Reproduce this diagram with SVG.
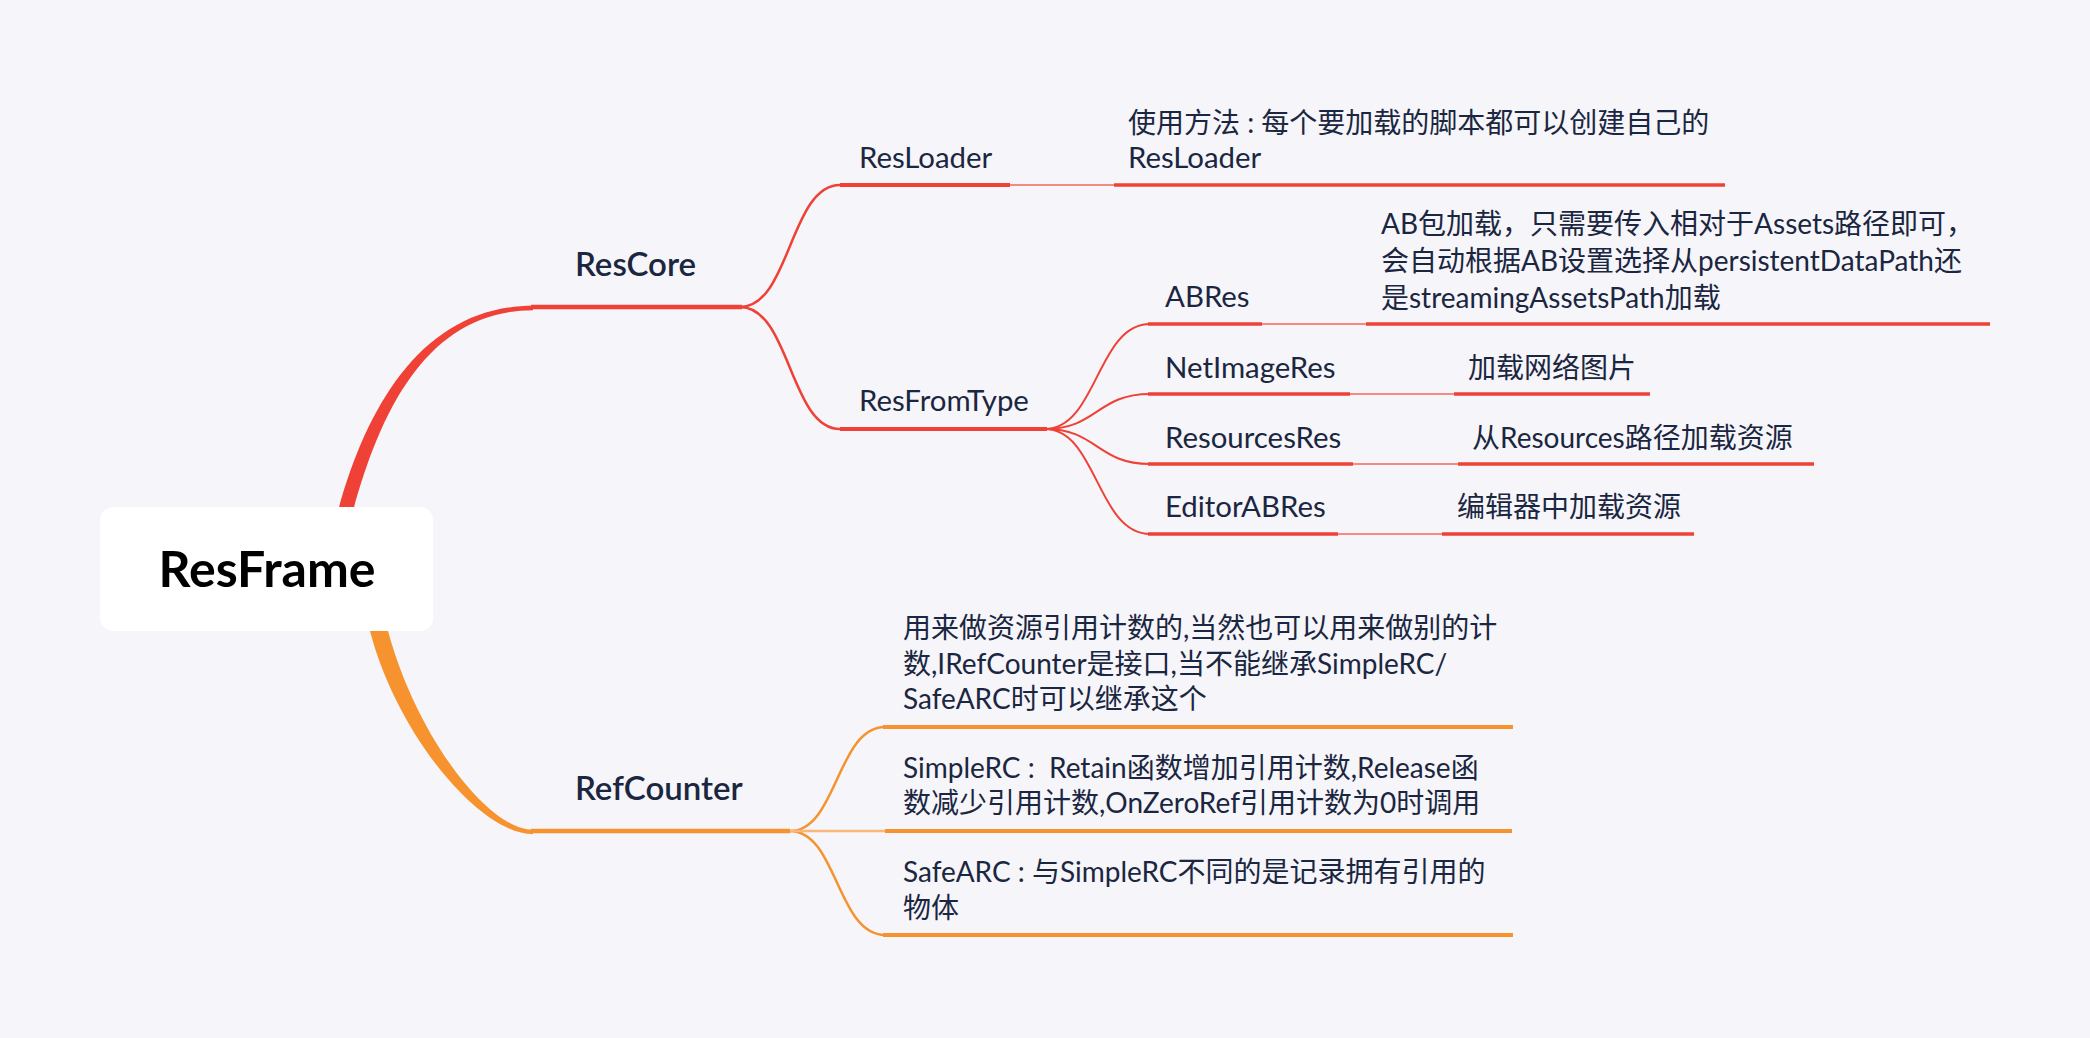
<svg xmlns="http://www.w3.org/2000/svg" width="2090" height="1038" viewBox="0 0 2090 1038">
<defs>
<style>
.t{font-family:Lato,"Noto Sans CJK SC",sans-serif;fill:#1B2640;font-size:28px}
.lat{font-size:29.4px}
.main{font-size:33px;font-weight:600}
.root{font-family:Lato,"Noto Sans CJK SC",sans-serif;font-size:50px;font-weight:700;fill:#000}
.r{stroke:#EF4136;fill:none}
.rl{stroke:#F58A84;fill:none;stroke-width:2}
.o{stroke:#F7932F;fill:none}
.ol{stroke:#FAB77A;fill:none;stroke-width:2.5}
.u{stroke-width:3.5}
.c{stroke-width:2.5}
</style>
</defs>
<rect x="0" y="0" width="2090" height="1038" fill="#F5F5FA"/>
<g id="connectors">
<path d="M337,515 C368,398 428,305.8 533,305.8 L533,310.2 C432,310.2 382,402 352,515 Z" fill="#EF4136"/>
<path d="M368,623 C394,733 480,834.2 533,834.2 L533,829.8 C486,829.8 412,729 386,623 Z" fill="#F7932F"/>
<path class="r c" d="M740,307 C790,307 790,185 840,185"/>
<path class="r c" d="M740,307 C790,307 790,429 840,429"/>
<path class="r" stroke-width="2" d="M1045,429 C1097,429 1097,324 1150,324"/>
<path class="r" stroke-width="2" d="M1045,429 C1097,429 1097,394 1150,394"/>
<path class="r" stroke-width="2" d="M1045,429 C1097,429 1097,464 1150,464"/>
<path class="r" stroke-width="2" d="M1045,429 C1097,429 1097,534 1150,534"/>
<path class="o c" d="M790,831 C837,831 837,727 885,727"/>
<path class="o c" d="M790,831 C837,831 837,935 885,935"/>
<line class="rl" x1="1010" y1="185" x2="1114" y2="185"/>
<line class="rl" x1="1262" y1="324" x2="1366" y2="324"/>
<line class="rl" x1="1350" y1="394" x2="1454" y2="394"/>
<line class="rl" x1="1353" y1="464" x2="1458" y2="464"/>
<line class="rl" x1="1338" y1="534" x2="1442" y2="534"/>
<line class="ol" x1="790" y1="831" x2="885" y2="831"/>
</g>
<g id="root">
<rect x="100" y="507" width="333" height="124" rx="13" fill="#FFFFFF"/>
<text class="root" x="267" y="587" text-anchor="middle">ResFrame</text>
</g>
<g id="rescore">
<line class="r" stroke-width="4.5" x1="531" y1="307" x2="742" y2="307"/>
<text class="t main" x="575" y="276">ResCore</text>
</g>
<g id="resloader">
<line class="r" stroke-width="4" x1="840" y1="185" x2="1010" y2="185"/>
<text class="t lat" x="859" y="168">ResLoader</text>
</g>
<g id="resloader-note">
<line class="r u" x1="1114" y1="185" x2="1725" y2="185"/>
<text class="t" x="1128" y="133">使用方法 : 每个要加载的脚本都可以创建自己的</text>
<text class="t lat" x="1128" y="168">ResLoader</text>
</g>
<g id="resfromtype">
<line class="r" stroke-width="4" x1="840" y1="429" x2="1047" y2="429"/>
<text class="t lat" x="859" y="411">ResFromType</text>
</g>
<g id="abres">
<line class="r u" x1="1148" y1="324" x2="1262" y2="324"/>
<text class="t lat" x="1165" y="307">ABRes</text>
</g>
<g id="abres-note">
<line class="r u" x1="1366" y1="324" x2="1990" y2="324"/>
<text class="t" x="1381" y="234">AB包加载，只需要传入相对于Assets路径即可，</text>
<text class="t" x="1381" y="271">会自动根据AB设置选择从persistentDataPath还</text>
<text class="t" x="1381" y="308">是streamingAssetsPath加载</text>
</g>
<g id="netimageres">
<line class="r u" x1="1148" y1="394" x2="1350" y2="394"/>
<text class="t lat" x="1165" y="378">NetImageRes</text>
</g>
<g id="netimageres-note">
<line class="r u" x1="1454" y1="394" x2="1650" y2="394"/>
<text class="t" x="1468" y="378">加载网络图片</text>
</g>
<g id="resourcesres">
<line class="r u" x1="1148" y1="464" x2="1353" y2="464"/>
<text class="t lat" x="1165" y="448">ResourcesRes</text>
</g>
<g id="resourcesres-note">
<line class="r u" x1="1458" y1="464" x2="1814" y2="464"/>
<text class="t" x="1472" y="448">从Resources路径加载资源</text>
</g>
<g id="editorabres">
<line class="r u" x1="1148" y1="534" x2="1338" y2="534"/>
<text class="t lat" x="1165" y="517">EditorABRes</text>
</g>
<g id="editorabres-note">
<line class="r u" x1="1442" y1="534" x2="1694" y2="534"/>
<text class="t" x="1457" y="517">编辑器中加载资源</text>
</g>
<g id="refcounter">
<line class="o" stroke-width="4.5" x1="531" y1="831" x2="790" y2="831"/>
<text class="t main" x="575" y="800">RefCounter</text>
</g>
<g id="refcounter-note">
<line class="o" stroke-width="4" x1="883" y1="727" x2="1513" y2="727"/>
<text class="t" x="903" y="638">用来做资源引用计数的,当然也可以用来做别的计</text>
<text class="t" x="903" y="674">数,IRefCounter是接口,当不能继承SimpleRC/</text>
<text class="t" x="903" y="709">SafeARC时可以继承这个</text>
</g>
<g id="simplerc">
<line class="o" stroke-width="4" x1="885" y1="831" x2="1512" y2="831"/>
<text class="t" x="903" y="778" xml:space="preserve">SimpleRC :  Retain函数增加引用计数,Release函</text>
<text class="t" x="903" y="813">数减少引用计数,OnZeroRef引用计数为0时调用</text>
</g>
<g id="safearc">
<line class="o" stroke-width="4" x1="883" y1="935" x2="1513" y2="935"/>
<text class="t" x="903" y="882">SafeARC : 与SimpleRC不同的是记录拥有引用的</text>
<text class="t" x="903" y="918">物体</text>
</g>
</svg>
